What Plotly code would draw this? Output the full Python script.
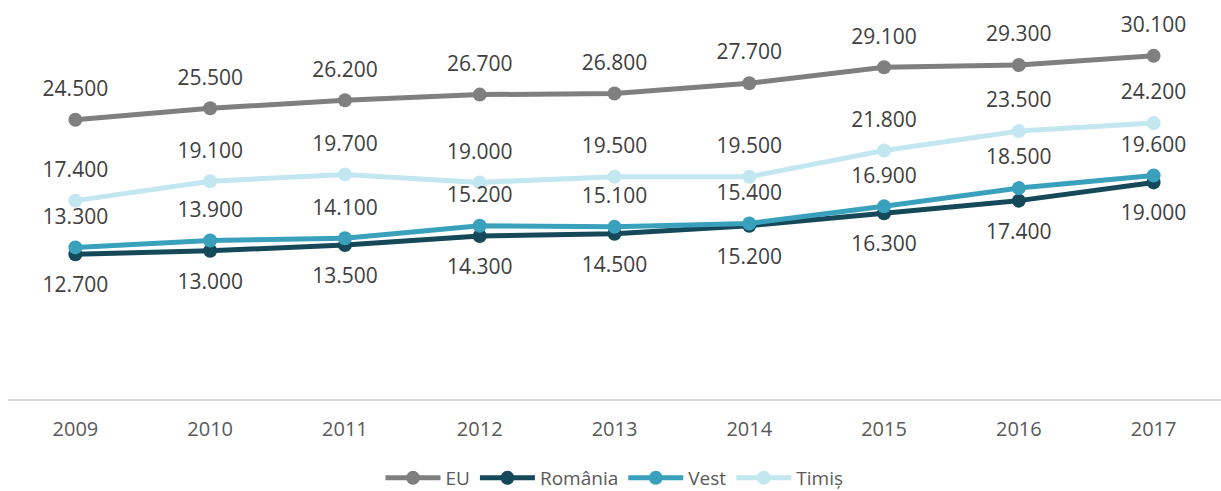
import plotly.graph_objects as go

years = ['2009', '2010', '2011', '2012', '2013', '2014', '2015', '2016', '2017']
eu = [24.5, 25.5, 26.2, 26.7, 26.8, 27.7, 29.1, 29.3, 30.1]
romania = [12.7, 13.0, 13.5, 14.3, 14.5, 15.2, 16.3, 17.4, 19.0]
vest = [13.3, 13.9, 14.1, 15.2, 15.1, 15.4, 16.9, 18.5, 19.6]
timis = [17.4, 19.1, 19.7, 19.0, 19.5, 19.5, 21.8, 23.5, 24.2]

series = [
    ('EU', eu, '#7f7f7f', 'top center'),
    ('România', romania, '#15495a', 'bottom center'),
    ('Vest', vest, '#3aa1bd', 'top center'),
    ('Timiș', timis, '#c3e7f0', 'top center'),
]

fig = go.Figure()
for name, vals, color, pos in series:
    fig.add_trace(go.Scatter(
        x=years, y=vals, mode='lines+markers', name=name,
        line=dict(color=color, width=5),
        marker=dict(size=14, color=color),
    ))

# data labels: big invisible markers push the text away from the points
for name, vals, color, pos in series:
    fig.add_trace(go.Scatter(
        x=years, y=vals, mode='markers+text', showlegend=False,
        text=[f'{v:.3f}' for v in vals], textposition=pos,
        textfont=dict(family='Open Sans', size=21, color='#404040'),
        marker=dict(size=28 if pos.startswith('top') else 34, color='rgba(0,0,0,0)'),
        hoverinfo='skip', cliponaxis=False,
    ))

fig.update_layout(
    width=1221, height=491,
    margin=dict(l=8, r=0, t=0, b=92),
    paper_bgcolor='white', plot_bgcolor='white',
    font=dict(family='Open Sans', size=20, color='#595959'),
    showlegend=True,
    legend=dict(
        orientation='h', x=0.5, xanchor='center',
        yref='container', y=1 - 478 / 491, yanchor='middle',
        font=dict(size=19, color='#595959'),
        itemwidth=55, tracegroupgap=0,
    ),
)
fig.update_xaxes(
    type='category', range=[-0.5, 8.5],
    showline=True, linecolor='#d9d9d9', linewidth=1.5,
    showgrid=False, ticks='', ticklabelstandoff=11,
    tickfont=dict(size=20, color='#595959'),
)
fig.update_yaxes(
    range=[0, 35], showticklabels=False, showgrid=False,
    zeroline=False, showline=False,
)

fig.write_html("out.html", config={'displayModeBar': False},
               post_script="document.body.style.margin='0';")
